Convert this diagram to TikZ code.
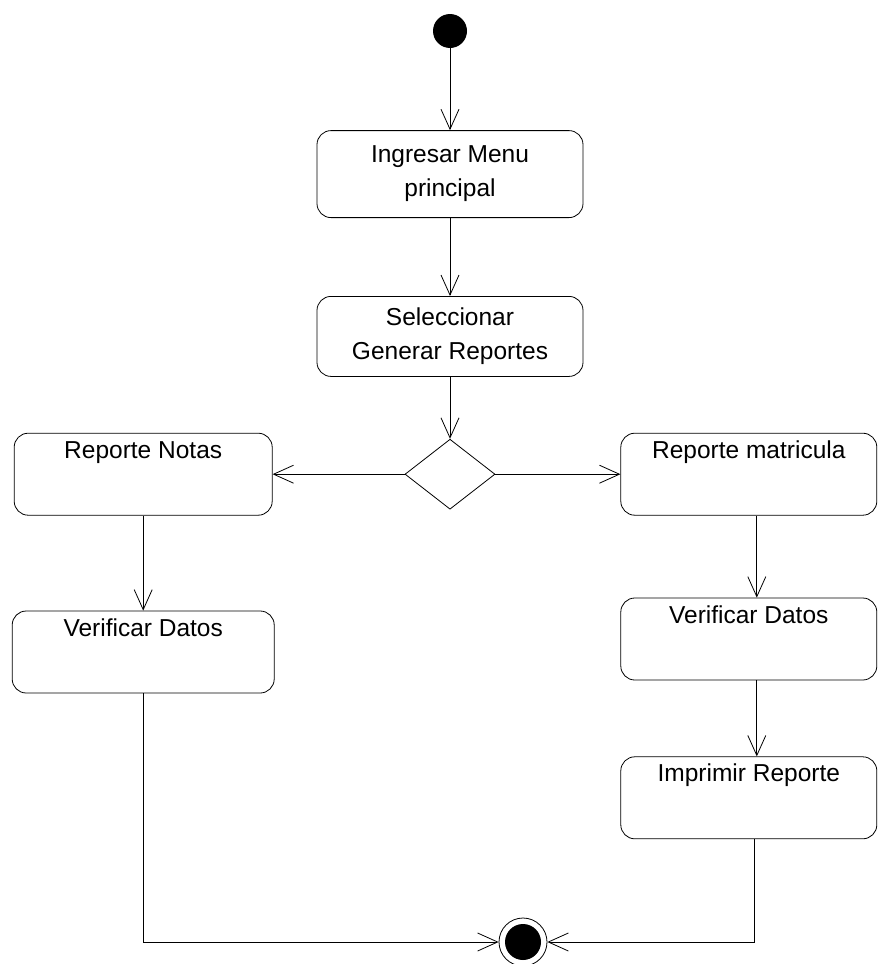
\documentclass[tikz,border=0pt]{standalone}
\usepackage{fontspec}
\setmainfont{Liberation Sans}
\usetikzlibrary{shapes.geometric, arrows.meta, positioning}

\begin{document}
\begin{tikzpicture}[
  x=1pt, y=-1pt,
  actbox/.style={rectangle, rounded corners=14pt, draw, line width=0.8pt, text centered, inner sep=0pt, font=\fontsize{24.5}{34}\selectfont},
  twobox/.style={actbox, align=center, minimum width=266pt, minimum height=82pt},
  onebox/.style={actbox, minimum width=256pt, text height=25pt, text depth=57pt},
  decide/.style={diamond, draw, line width=0.8pt, minimum width=90pt, minimum height=70pt, inner sep=0pt},
  startnode/.style={circle, fill=black, minimum size=34pt, inner sep=0pt},
  endnode/.style={circle, draw, line width=0.8pt, minimum size=48pt, inner sep=0pt,
    path picture={\fill[black] (path picture bounding box.center) circle[radius=18pt];}},
  arr/.style={line width=0.8pt, -{Straight Barb[length=20pt, width=18pt]}}
]
\useasboundingbox (0,0) rectangle (878,964);

\node[startnode] (start) at (450,31) {};
\node[twobox, minimum height=87pt, below=82pt of start] (ingresar) {Ingresar Menu\\principal};
\node[twobox, minimum height=80pt, below=78pt of ingresar] (selec) {Seleccionar\\Generar Reportes};
\node[decide, below=62pt of selec] (decision) {};

\node[onebox, minimum width=258pt, left=132pt of decision] (notas) {Reporte Notas};
\node[onebox, minimum width=262pt, below=95pt of notas] (verL) {Verificar Datos};

\node[onebox, right=125pt of decision] (matric) {Reporte matricula};
\node[onebox, below=82pt of matric] (verR) {Verificar Datos};
\node[onebox, below=76pt of verR] (impr) {Imprimir Reporte};

\node[endnode] (endn) at (523,942) {};

\draw[arr] (start) -- (ingresar);
\draw[arr] (ingresar) -- (selec);
\draw[arr] (selec) -- (decision);
\draw[arr] (decision) -- (notas);
\draw[arr] (decision) -- (matric);
\draw[arr] (notas) -- (verL);
\draw[arr] ([xshift=8pt]matric.south) -- ([xshift=8pt]verR.north);
\draw[arr] ([xshift=8pt]verR.south) -- ([xshift=8pt]impr.north);
\draw[arr] (verL.south) |- (endn.west);
\draw[arr] ([xshift=6pt]impr.south) |- (endn.east);
\end{tikzpicture}
\end{document}
